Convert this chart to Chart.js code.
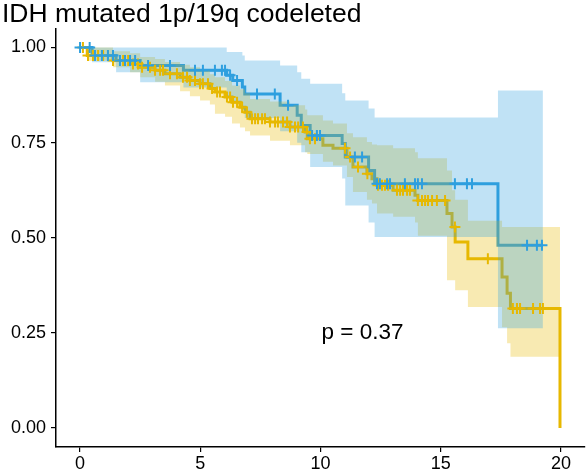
<!DOCTYPE html>
<html>
<head>
<meta charset="utf-8">
<script src="https://cdn.jsdelivr.net/npm/chart.js@4.4.1/dist/chart.umd.min.js"></script>
<style>
  html, body { margin: 0; padding: 0; background: #fff; overflow: hidden; }
  #wrap { width: 587px; height: 473px; }
  canvas { display: block; }
</style>
</head>
<body>
<div id="wrap"><canvas id="kmChart" width="587" height="473"></canvas></div>
<script>
const titleText = 'IDH mutated 1p/19q codeleted'
const pValueText = 'p = 0.37'
const xTicks = [0, 5, 10, 15, 20]
const yTicks = [0, 0.25, 0.5, 0.75, 1]

// blue group: step times, survival, CI
const blueTimes = [0, 0.5, 1.5, 2.5, 4.3, 6.1, 6.35, 6.75, 6.85, 8.32, 9.03, 9.2, 9.57, 10.9, 11.03, 12.0, 12.25, 17.38, 19.25]
const blueSurv  = [1, 0.979, 0.966, 0.953, 0.94, 0.927, 0.913, 0.896, 0.878, 0.848, 0.822, 0.795, 0.769, 0.748, 0.712, 0.677, 0.642, 0.48, 0.48]
const blueUpper = [1, 1, 1, 1, 1, 0.988, 0.988, 0.979, 0.966, 0.953, 0.935, 0.918, 0.905, 0.88, 0.861, 0.84, 0.816, 0.887, 0.887]
const blueLower = [1, 0.961, 0.935, 0.909, 0.895, 0.87, 0.855, 0.835, 0.815, 0.78, 0.75, 0.725, 0.686, 0.656, 0.585, 0.54, 0.502, 0.262, 0.262]
const blueCensor = [0.0, 0.4, 0.62, 0.91, 1.16, 1.37, 1.66, 1.87, 2.08, 2.29, 2.83, 3.74, 4.78, 5.11, 5.61, 5.9, 6.03, 6.24, 6.53, 7.36, 8.1, 8.65, 9.65, 9.85, 9.98, 11.43, 11.73, 12.35, 12.47, 12.77, 12.89, 13.51, 13.93, 14.05, 14.22, 15.59, 16.09, 16.3, 18.59, 19.0, 19.21]

// yellow group
const yellowTimes = [0, 0.3, 1.37, 2.08, 2.5, 3.12, 3.53, 4.16, 4.57, 4.99, 5.4, 5.61, 6.03, 6.32, 6.65, 6.86, 7.07, 7.9, 8.73, 9.36, 9.45, 10.1, 10.52, 11.1, 11.35, 11.93, 12.14, 12.35, 13.02, 13.93, 14.05, 15.26, 15.47, 15.6, 16.13, 17.55, 17.76, 17.9, 19.96]
const yellowSurv  = [1, 0.979, 0.966, 0.957, 0.948, 0.94, 0.931, 0.922, 0.913, 0.905, 0.892, 0.883, 0.87, 0.856, 0.843, 0.83, 0.813, 0.804, 0.791, 0.778, 0.76, 0.743, 0.735, 0.712, 0.686, 0.668, 0.655, 0.638, 0.625, 0.612, 0.598, 0.564, 0.528, 0.489, 0.445, 0.397, 0.354, 0.314, 0]
const yellowUpper = [1, 1, 0.99, 0.985, 0.975, 0.97, 0.962, 0.955, 0.948, 0.94, 0.93, 0.922, 0.912, 0.9, 0.89, 0.88, 0.865, 0.858, 0.848, 0.837, 0.822, 0.808, 0.8, 0.775, 0.764, 0.752, 0.745, 0.743, 0.735, 0.725, 0.709, 0.677, 0.625, 0.6, 0.545, 0.528, 0.528, 0.528, 0.528]
const yellowLower = [1, 0.965, 0.948, 0.935, 0.922, 0.91, 0.9, 0.885, 0.872, 0.861, 0.85, 0.826, 0.818, 0.8, 0.79, 0.78, 0.769, 0.755, 0.743, 0.725, 0.72, 0.7, 0.69, 0.66, 0.62, 0.6, 0.59, 0.564, 0.555, 0.54, 0.505, 0.388, 0.388, 0.362, 0.318, 0.265, 0.223, 0.187, 0.187]
const yellowCensor = [0.12, 0.33, 0.54, 0.75, 0.96, 1.16, 1.37, 1.79, 2.0, 2.2, 2.41, 2.58, 2.91, 3.12, 3.33, 3.45, 3.74, 4.03, 4.28, 4.45, 4.57, 4.78, 4.99, 5.11, 5.32, 5.49, 5.7, 5.82, 6.11, 6.24, 6.36, 6.53, 6.74, 6.94, 7.15, 7.28, 7.4, 7.57, 7.69, 7.9, 8.11, 8.23, 8.44, 8.61, 8.73, 8.94, 9.07, 9.27, 9.44, 9.56, 9.77, 11.02, 11.23, 11.56, 11.95, 12.39, 12.56, 12.68, 12.81, 13.18, 13.31, 13.43, 13.6, 13.72, 14.05, 14.22, 14.35, 14.47, 14.64, 14.84, 15.18, 15.59, 16.96, 18.0, 18.17, 18.3, 18.84, 19.13, 19.25]

const blue = '#2E9FDF'
const yellow = '#E7B800'
const blueFill = 'rgba(46,159,223,0.3)'
const yellowFill = 'rgba(231,184,0,0.3)'
const font = '"Liberation Sans", Arial, Helvetica, sans-serif'

function toPoints(times, vals) {
  return times.map((t, i) => ({ x: t, y: vals[i] }))
}

function survAt(times, surv, t) {
  let s = surv[0]
  for (let i = 0; i < times.length; i++) {
    if (times[i] <= t) s = surv[i]
  }
  return s
}

function censorPoints(censor, times, surv) {
  return censor.map((t) => ({ x: t, y: survAt(times, surv, t) }))
}

const bandBase = { borderWidth: 0, pointRadius: 0, stepped: 'before' }
const censorBase = { showLine: false, pointStyle: 'cross', pointRadius: 5.5, pointBorderWidth: 2, pointHoverRadius: 0 }

const pLabel = {
  id: 'pLabel',
  afterDatasetsDraw(chart) {
    const { ctx, scales } = chart
    ctx.save()
    ctx.font = '22.5px ' + font
    ctx.fillStyle = '#000'
    ctx.textAlign = 'center'
    ctx.textBaseline = 'middle'
    ctx.fillText(pValueText, scales.x.getPixelForValue(11.75), scales.y.getPixelForValue(0.25))
    ctx.restore()
  }
}

new Chart(document.getElementById('kmChart'), {
  type: 'line',
  data: {
    datasets: [
      { ...censorBase, data: censorPoints(blueCensor, blueTimes, blueSurv), borderColor: blue, pointBorderColor: blue },
      { ...censorBase, data: censorPoints(yellowCensor, yellowTimes, yellowSurv), borderColor: yellow, pointBorderColor: yellow },
      { ...bandBase, data: toPoints(blueTimes, blueUpper), fill: '+1', backgroundColor: blueFill },
      { ...bandBase, data: toPoints(blueTimes, blueLower), fill: false },
      { ...bandBase, data: toPoints(yellowTimes, yellowUpper), fill: '+1', backgroundColor: yellowFill },
      { ...bandBase, data: toPoints(yellowTimes, yellowLower), fill: false },
      { data: toPoints(blueTimes, blueSurv), stepped: 'before', borderColor: blue, borderWidth: 3, pointRadius: 0, fill: false },
      { data: toPoints(yellowTimes, yellowSurv), stepped: 'before', borderColor: yellow, borderWidth: 3, pointRadius: 0, fill: false },
    ]
  },
  options: {
    responsive: false,
    animation: false,
    devicePixelRatio: 1,
    layout: { autoPadding: false, padding: { left: 2, right: 2, top: 0, bottom: 0 } },
    plugins: {
      legend: { display: false },
      tooltip: { enabled: false },
      title: {
        display: true,
        text: titleText,
        align: 'start',
        color: '#000',
        font: { family: font, size: 26.5, weight: 'normal', lineHeight: 1.0 },
        padding: { top: 1, bottom: 1 }
      }
    },
    scales: {
      x: {
        type: 'linear',
        min: -1,
        max: 21,
        afterBuildTicks: (scale) => { scale.ticks = xTicks.map((v) => ({ value: v })) },
        afterFit: (scale) => { scale.height = 26; scale.paddingLeft = 0; scale.paddingRight = 0 },
        grid: { drawOnChartArea: false, drawTicks: true, tickLength: 5, color: '#000', lineWidth: 1.2 },
        border: { display: true, color: '#000', width: 1.5 },
        ticks: { color: '#000', padding: 1, font: { family: font, size: 18 }, maxRotation: 0 }
      },
      y: {
        type: 'linear',
        min: -0.05,
        max: 1.05,
        afterBuildTicks: (scale) => { scale.ticks = yTicks.map((v) => ({ value: v })) },
        afterFit: (scale) => { scale.width = 54; scale.paddingTop = 0; scale.paddingBottom = 0 },
        grid: { drawOnChartArea: false, drawTicks: true, tickLength: 5, color: '#000', lineWidth: 1.2 },
        border: { display: true, color: '#000', width: 1.5 },
        ticks: { color: '#000', padding: 5, font: { family: font, size: 18 }, callback: (v) => v.toFixed(2) }
      }
    }
  },
  plugins: [pLabel]
})
</script>
</body>
</html>
